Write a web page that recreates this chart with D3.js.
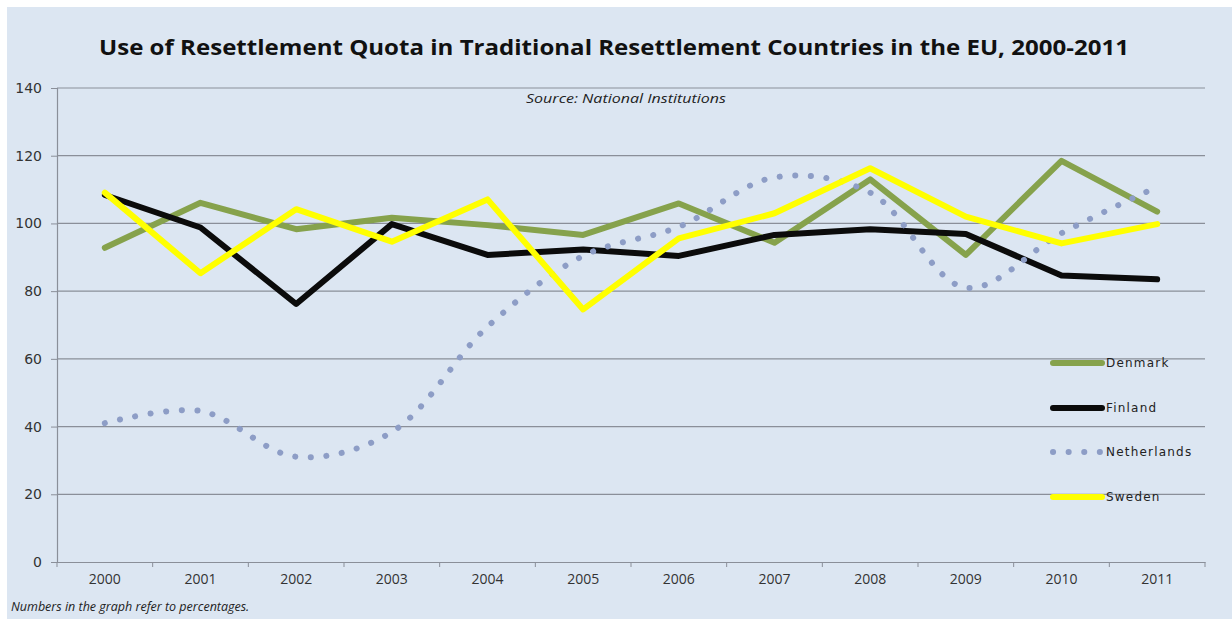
<!DOCTYPE html>
<html>
<head>
<meta charset="utf-8">
<script src="https://cdn.jsdelivr.net/npm/d3@7"></script>
<style>
  html, body { margin: 0; padding: 0; background: #ffffff; }
  svg { display: block; }
</style>
</head>
<body>
<svg id="chart" width="1232" height="619"></svg>
<script>
// ---- data ----
const years = ["2000","2001","2002","2003","2004","2005","2006","2007","2008","2009","2010","2011"];
const denmark     = [92.8, 106.1, 98.3, 101.7, 99.5, 96.6, 105.9, 94.3, 113.0, 90.7, 118.5, 103.5];
const finland     = [108.4, 98.8, 76.2, 99.8, 90.7, 92.3, 90.4, 96.6, 98.3, 96.9, 84.6, 83.5];
const netherlands = [41.0, 44.6, 31.1, 38.4, 69.5, 90.4, 99.0, 113.6, 109.1, 81.0, 97.1, 110.8];
const sweden      = [109.1, 85.3, 104.2, 94.6, 107.1, 74.6, 95.6, 103.0, 116.3, 102.0, 94.1, 99.8];
const seriesNames = ["Denmark", "Finland", "Netherlands", "Sweden"];
const yTicks = [0, 20, 40, 60, 80, 100, 120, 140];
const titleText = "Use of Resettlement Quota in Traditional Resettlement Countries in the EU, 2000-2011";
const sourceText = "Source: National Institutions";
const footText = "Numbers in the graph refer to percentages.";

// ---- layout ----
const W = 1232, H = 619;
const plot = { left: 57, right: 1205, top: 88, bottom: 562 };

const svg = d3.select("#chart");
svg.append("rect").attr("x", 7).attr("y", 7).attr("width", W - 7).attr("height", H - 7).attr("fill", "#dce6f2");

const x = d3.scaleBand().domain(years).range([plot.left, plot.right]).padding(0);
const y = d3.scaleLinear().domain([0, 140]).range([plot.bottom, plot.top]);
const cx = d => x(d) + x.bandwidth() / 2;

// gridlines
svg.append("g").selectAll("line").data(yTicks.filter(t => t > 0)).join("line")
  .attr("x1", plot.left).attr("x2", plot.right)
  .attr("y1", d => y(d)).attr("y2", d => y(d))
  .attr("stroke", "#8a8f99").attr("stroke-width", 1.2);

// y axis
const yAxis = d3.axisLeft(y).tickValues(yTicks).tickSize(6).tickPadding(9).tickFormat(d3.format("d"));
const gy = svg.append("g").attr("transform", `translate(${plot.left},0)`).call(yAxis);
gy.select(".domain").attr("stroke", "#8a8f99").attr("stroke-width", 1.2);
gy.selectAll(".tick line").attr("stroke", "#8a8f99");
gy.selectAll(".tick text").attr("font-family", "DejaVu Sans, Verdana, sans-serif").attr("font-size", 14).attr("fill", "#333");

// x axis
const gx = svg.append("g").attr("transform", `translate(0,${plot.bottom})`)
  .call(d3.axisBottom(x).tickSize(0).tickPadding(12));
gx.select(".domain").attr("stroke", "#8a8f99").attr("stroke-width", 1.2);
gx.selectAll(".tick text").attr("font-family", "Open Sans, sans-serif").attr("font-size", 14).attr("fill", "#333");
// boundary ticks
const bounds = years.map(d => x(d)).concat([plot.right]);
gx.append("g").selectAll("line").data(bounds).join("line")
  .attr("x1", d => d).attr("x2", d => d).attr("y1", 0).attr("y2", 5)
  .attr("stroke", "#8a8f99").attr("stroke-width", 1);

// lines
const styles = {
  Denmark:     { color: "#86a24c", width: 6, dash: null },
  Finland:     { color: "#0b0b0b", width: 6, dash: null },
  Netherlands: { color: "#8d9dc6", width: 6, dash: "0.1 15.5" },
  Sweden:      { color: "#ffff00", width: 6, dash: null }
};
const dataBy = { Denmark: denmark, Finland: finland, Netherlands: netherlands, Sweden: sweden };

const straight = d3.line().x((d, i) => cx(years[i])).y(d => y(d)).curve(d3.curveLinear);
const smooth = d3.line().x((d, i) => cx(years[i])).y(d => y(d)).curve(d3.curveCatmullRom.alpha(0.5));

seriesNames.forEach(name => {
  const st = styles[name];
  svg.append("path").datum(dataBy[name])
    .attr("d", name === "Netherlands" ? smooth : straight)
    .attr("fill", "none").attr("stroke", st.color).attr("stroke-width", st.width)
    .attr("stroke-linejoin", "round").attr("stroke-linecap", "round")
    .attr("stroke-dasharray", st.dash);
});

// legend
const legendY = [363, 408, 452, 497];
const lg = svg.append("g");
seriesNames.forEach((name, i) => {
  const st = styles[name];
  lg.append("line").attr("x1", 1053).attr("x2", 1102).attr("y1", legendY[i]).attr("y2", legendY[i])
    .attr("stroke", st.color).attr("stroke-width", st.width)
    .attr("stroke-linecap", "round").attr("stroke-dasharray", st.dash);
  lg.append("text").attr("x", 1106).attr("y", legendY[i]).attr("dy", "0.35em")
    .attr("font-family", "DejaVu Sans, Verdana, sans-serif").attr("font-size", 12)
    .attr("letter-spacing", 1.2).attr("fill", "#222").text(name);
});

// title & texts
svg.append("text").attr("x", 614).attr("y", 55).attr("text-anchor", "middle")
  .attr("font-family", "Open Sans, sans-serif").attr("font-weight", "bold").attr("font-size", 21)
  .attr("textLength", 1030).attr("lengthAdjust", "spacingAndGlyphs")
  .attr("fill", "#111").text(titleText);
svg.append("text").attr("x", 626).attr("y", 103).attr("text-anchor", "middle")
  .attr("font-family", "Open Sans, sans-serif").attr("font-style", "italic").attr("font-size", 13)
  .attr("textLength", 200).attr("lengthAdjust", "spacingAndGlyphs")
  .attr("fill", "#222").text(sourceText);
svg.append("text").attr("x", 11).attr("y", 611)
  .attr("font-family", "Open Sans, sans-serif").attr("font-style", "italic").attr("font-size", 12.5)
  .attr("fill", "#222").text(footText);
</script>
</body>
</html>
